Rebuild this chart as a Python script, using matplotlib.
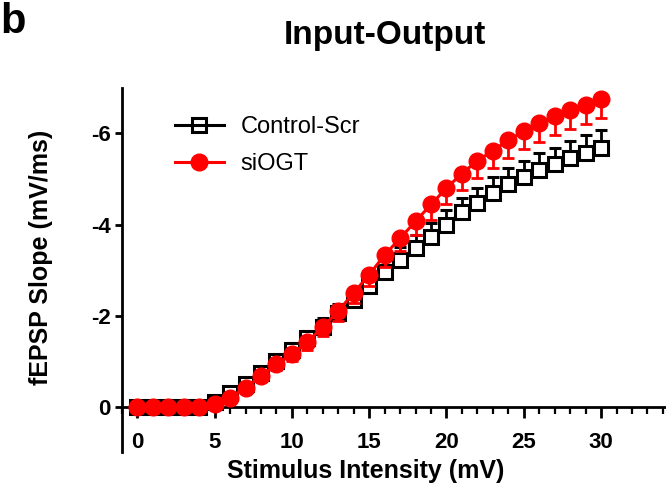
import matplotlib
matplotlib.use("Agg")
import matplotlib.pyplot as plt
from matplotlib.lines import Line2D
from matplotlib.ticker import MultipleLocator

plt.rcParams["font.family"] = ["Liberation Sans", "DejaVu Sans"]
plt.rcParams["axes.unicode_minus"] = False

# stimulus intensity (mV)
intensity = list(range(0, 31))

# fEPSP slope means (mV/ms) and SEM
ctrl_mean = [0.0, 0.0, 0.0, 0.0, 0.0, -0.1, -0.3, -0.5, -0.75, -1.0,
             -1.25, -1.5, -1.75, -2.05, -2.35, -2.65, -2.95, -3.22, -3.49, -3.73,
             -4.0, -4.27, -4.48, -4.7, -4.9, -5.05, -5.2, -5.32, -5.45, -5.57, -5.68]
ctrl_sem = [0.02, 0.02, 0.02, 0.02, 0.03, 0.05, 0.07, 0.09, 0.11, 0.13,
            0.15, 0.17, 0.19, 0.21, 0.23, 0.25, 0.27, 0.28, 0.29, 0.3,
            0.31, 0.32, 0.33, 0.34, 0.35, 0.35, 0.36, 0.37, 0.38, 0.39, 0.4]
ogt_mean = [0.0, 0.0, 0.0, 0.0, 0.0, -0.05, -0.2, -0.42, -0.67, -0.93,
            -1.15, -1.42, -1.75, -2.1, -2.5, -2.9, -3.33, -3.7, -4.07, -4.44,
            -4.8, -5.12, -5.4, -5.62, -5.85, -6.05, -6.22, -6.38, -6.52, -6.63, -6.75]
ogt_sem = [0.02, 0.02, 0.02, 0.02, 0.03, 0.05, 0.07, 0.09, 0.11, 0.13,
           0.15, 0.17, 0.19, 0.21, 0.23, 0.25, 0.27, 0.29, 0.31, 0.33,
           0.35, 0.36, 0.37, 0.38, 0.39, 0.4, 0.41, 0.41, 0.42, 0.42, 0.42]

RED = "#ff0000"

fig = plt.figure(figsize=(6.66, 4.91), dpi=100)
ax = fig.add_axes([0.183, 0.079, 0.817, 0.742])

# one-sided error bars (Prism style): control upward, siOGT downward
ax.errorbar(intensity, ctrl_mean, yerr=[ctrl_sem, [0] * len(ctrl_sem)],
            color="black", lw=2.2, marker="s", ms=9.5, mfc="white", mec="black",
            mew=2.2, ecolor="black", elinewidth=2.0, capsize=4.5, capthick=2.0,
            zorder=3)
ax.errorbar(intensity, ogt_mean, yerr=[[0] * len(ogt_sem), ogt_sem],
            color=RED, lw=2.2, marker="o", ms=12, mfc=RED, mec=RED,
            ecolor=RED, elinewidth=2.0, capsize=4.5, capthick=2.0,
            zorder=4)

ax.set_xlim(-1, 34.2)
ax.set_ylim(1.0, -7.0)
ax.spines["top"].set_visible(False)
ax.spines["right"].set_visible(False)
ax.spines["bottom"].set_position(("data", 0))
for s in ("left", "bottom"):
    ax.spines[s].set_linewidth(2.0)

ax.xaxis.set_minor_locator(MultipleLocator(1))
ax.set_xticks([0, 5, 10, 15, 20, 25, 30])
ax.set_yticks([0, -2, -4, -6])
ax.tick_params(axis="x", which="major", length=8, width=2.0, direction="out", pad=10)
ax.tick_params(axis="x", which="minor", length=5, width=1.6, direction="out")
ax.tick_params(axis="y", which="major", length=5, width=2.0, direction="out", pad=3)
for lab in ax.get_xticklabels() + ax.get_yticklabels():
    lab.set_fontsize(16)
    lab.set_fontweight("bold")

ax.set_xlabel("Stimulus Intensity (mV)", fontsize=18, fontweight="bold")
ax.xaxis.set_label_coords(0.448, -0.02)
ax.set_ylabel("fEPSP Slope (mV/ms)", fontsize=18, fontweight="bold")
ax.yaxis.set_label_coords(-0.126, 0.535)

handles = [
    Line2D([], [], color="black", lw=2.2, marker="s", ms=9.5, mfc="none", mew=2.2),
    Line2D([], [], color=RED, lw=2.2, marker="o", ms=12, mfc=RED, mec=RED),
]
ax.legend(handles, ["Control-Scr", "siOGT"], loc="upper left",
          bbox_to_anchor=(0.058, 0.98), frameon=False, fontsize=17,
          handlelength=2.1, handletextpad=0.7, labelspacing=0.62)

fig.text(0.578, 0.928, "Input-Output", ha="center", va="center",
         fontsize=24, fontweight="bold")
fig.text(0.0, 0.955, "b", ha="left", va="center", fontsize=30, fontweight="bold")

fig.savefig("out.png", dpi=100)
